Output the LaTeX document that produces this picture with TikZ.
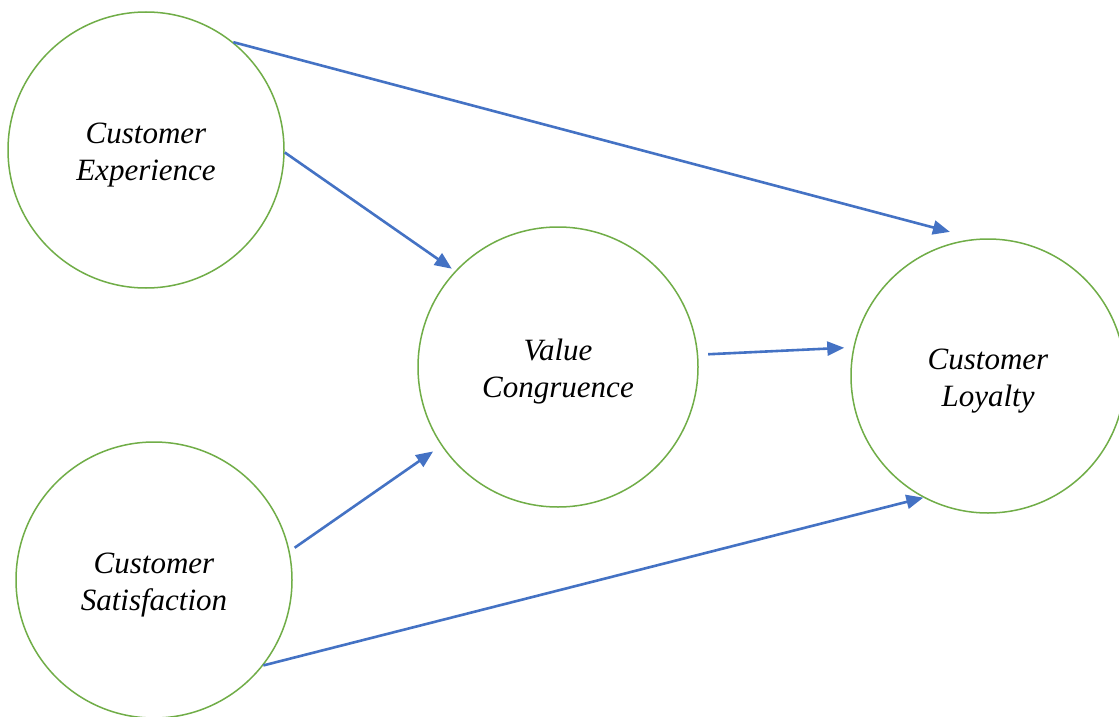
\documentclass[tikz,border=0pt]{standalone}
\usepackage{fontspec}
\setmainfont{Liberation Serif}
\usetikzlibrary{arrows.meta}
\definecolor{ringgreen}{HTML}{70AD47}
\definecolor{linkblue}{HTML}{4472C4}
\tikzset{
  construct/.style={circle, draw=ringgreen, line width=1.5pt, inner sep=0pt,
    minimum size=276pt, align=center,
    font=\fontsize{31}{37}\selectfont\itshape},
  path/.style={draw=linkblue, line width=2.6pt,
    -{Triangle[length=17pt,width=14pt]}}
}
\newcommand{\topstrut}{\rule{0pt}{30pt}}
\begin{document}
\begin{tikzpicture}[x=1pt,y=-1pt]
  \useasboundingbox (0,0) rectangle (1119,717);
  \clip (0,0) rectangle (1119,717);
  \fill[white] (0,0) rectangle (1119,717);

  % constructs
  \node[construct] (ce) at (146,150) {\topstrut Customer\\Experience};
  \node[construct, minimum size=280pt] (vc) at (558,367) {\topstrut Value\\Congruence};
  \node[construct, minimum size=274pt] (lo) at (988,376) {\topstrut Customer\\Loyalty};
  \node[construct] (cs) at (154,580) {\topstrut Customer\\Satisfaction};

  % hypothesised paths
  \draw[path, shorten >=27pt] (ce.51) -- (lo.95);
  \draw[path, shorten >=4pt] (ce.-1) -- (vc.137);
  \draw[path, shorten <=6pt, shorten >=10pt] (cs.12) -- (vc.214);
  \draw[path, shorten <=10pt, shorten >=9pt] (vc.5) -- (lo.168);
  \draw[path] (cs.-38) -- (lo.242);
\end{tikzpicture}
\end{document}
